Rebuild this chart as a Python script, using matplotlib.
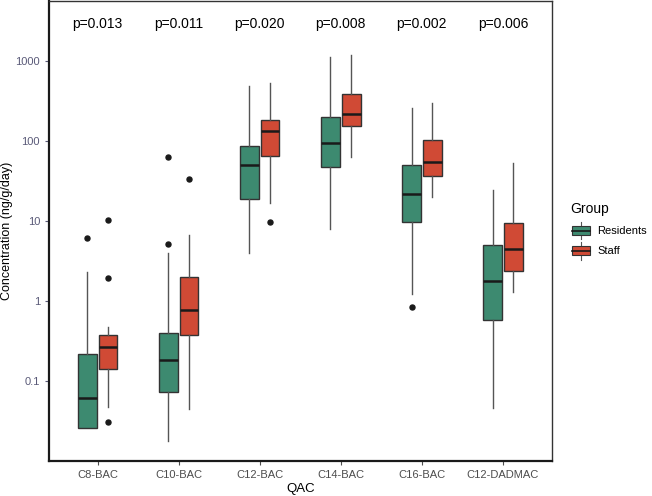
import matplotlib
matplotlib.use("Agg")
import matplotlib.pyplot as plt
from matplotlib.legend_handler import HandlerBase
from matplotlib.patches import Rectangle
from matplotlib.lines import Line2D
import matplotlib.transforms as mtransforms

plt.rcParams["font.family"] = ["Liberation Sans", "DejaVu Sans"]

qacs = ["C8-BAC", "C10-BAC", "C12-BAC", "C14-BAC", "C16-BAC", "C12-DADMAC"]
p_values = ["p=0.013", "p=0.011", "p=0.020", "p=0.008", "p=0.002", "p=0.006"]
groups = ["Residents", "Staff"]
colors = {"Residents": "#3d8a70", "Staff": "#d04a35"}

# five-number summaries: low whisker, q1, median, q3, high whisker
res_low = [0.0258, 0.0177, 3.99, 7.83, 1.21, 0.0458]
res_q1 = [0.0258, 0.0726, 18.7, 47.5, 9.74, 0.578]
res_med = [0.0605, 0.181, 49.5, 93.3, 21.8, 1.78]
res_q3 = [0.217, 0.391, 87.0, 197.0, 49.9, 4.98]
res_high = [2.27, 3.92, 487.0, 1132.0, 258.0, 24.3]
res_out = [[6.1], [63.4, 5.08], [], [], [0.841], []]

staff_low = [0.0471, 0.0441, 16.6, 63.4, 20.0, 1.27]
staff_q1 = [0.141, 0.376, 64.2, 155.0, 36.7, 2.33]
staff_med = [0.261, 0.765, 132.0, 217.0, 54.9, 4.40]
staff_q3 = [0.376, 2.0, 183.0, 383.0, 102.0, 9.3]
staff_high = [0.473, 6.6, 526.0, 1189.0, 295.0, 53.4]
staff_out = [[10.3, 1.91, 0.0303], [33.1], [9.58], [], [], []]


def make_stats(low, q1, med, q3, high, out):
    return [dict(whislo=a, q1=b, med=c, q3=d, whishi=e, fliers=f)
            for a, b, c, d, e, f in zip(low, q1, med, q3, high, out)]


stats = {
    "Residents": make_stats(res_low, res_q1, res_med, res_q3, res_high, res_out),
    "Staff": make_stats(staff_low, staff_q1, staff_med, staff_q3, staff_high, staff_out),
}
offsets = {"Residents": -0.128, "Staff": 0.128}

fig = plt.figure(figsize=(6.52, 4.96), dpi=100)
ax = fig.add_axes([0.0752, 0.0706, 0.7708, 0.9274])

base = list(range(1, len(qacs) + 1))
for g in groups:
    pos = [b + offsets[g] for b in base]
    ax.bxp(stats[g], positions=pos, widths=0.23, patch_artist=True,
           showcaps=False,
           boxprops=dict(facecolor=colors[g], edgecolor="#333333", linewidth=1.0),
           medianprops=dict(color="#1a1a1a", linewidth=1.8),
           whiskerprops=dict(color="#555555", linewidth=1.0),
           flierprops=dict(marker="o", markerfacecolor="#1a1a1a",
                           markeredgecolor="#1a1a1a", markersize=3.6))

ax.set_yscale("log")
ax.set_ylim(0.00986, 5636)
ax.set_xlim(0.4, 6.6)
ax.set_xticks(base)
ax.set_xticklabels(qacs)
ax.set_yticks([0.1, 1, 10, 100, 1000])
ax.set_yticklabels(["0.1", "1", "10", "100", "1000"])
ax.minorticks_off()
ax.tick_params(axis="x", colors="#4d4d4d", labelsize=8, length=3, width=0.8)
ax.tick_params(axis="y", colors="#5a5a78", labelsize=8, length=3, width=0.8)

for side in ["left", "bottom"]:
    ax.spines[side].set_linewidth(1.6)
    ax.spines[side].set_color("#1a1a1a")
for side in ["top", "right"]:
    ax.spines[side].set_linewidth(1.0)
    ax.spines[side].set_color("#333333")

ax.set_xlabel("QAC", fontsize=9.5, labelpad=2)
ax.set_ylabel("Concentration (ng/g/day)", fontsize=9)
ax.yaxis.set_label_coords(-0.072, 0.5)

trans = mtransforms.blended_transform_factory(ax.transData, ax.transAxes)
for b, p in zip(base, p_values):
    ax.text(b, 0.95, p, transform=trans, ha="center", va="center", fontsize=10)


class BoxHandler(HandlerBase):
    def create_artists(self, legend, orig_handle, xdescent, ydescent,
                       width, height, fontsize, trans):
        c = orig_handle.get_facecolor()
        w = width * 0.9
        x0 = (width - w) / 2 - xdescent
        y0 = -ydescent
        rect = Rectangle((x0, y0 + height * 0.1), w, height * 0.8,
                         facecolor=c, edgecolor="#333333", lw=0.8, transform=trans)
        med = Line2D([x0, x0 + w], [y0 + height / 2] * 2, color="#1a1a1a",
                     lw=1.2, transform=trans)
        wh1 = Line2D([x0 + w / 2] * 2, [y0 - height * 0.25, y0 + height * 0.1],
                     color="#555555", lw=0.8, transform=trans)
        wh2 = Line2D([x0 + w / 2] * 2, [y0 + height * 0.9, y0 + height * 1.25],
                     color="#555555", lw=0.8, transform=trans)
        return [wh1, wh2, rect, med]


handles = [Rectangle((0, 0), 1, 1, facecolor=colors[g]) for g in groups]
leg = fig.legend(handles, groups, handler_map={Rectangle: BoxHandler()},
                 title="Group", loc="upper left", bbox_to_anchor=(0.86, 0.612),
                 frameon=False, fontsize=8, title_fontsize=10,
                 handlelength=1.8, handleheight=1.25, labelspacing=0.75,
                 handletextpad=0.6)
leg._legend_box.align = "left"

fig.savefig("out.png", dpi=100)
